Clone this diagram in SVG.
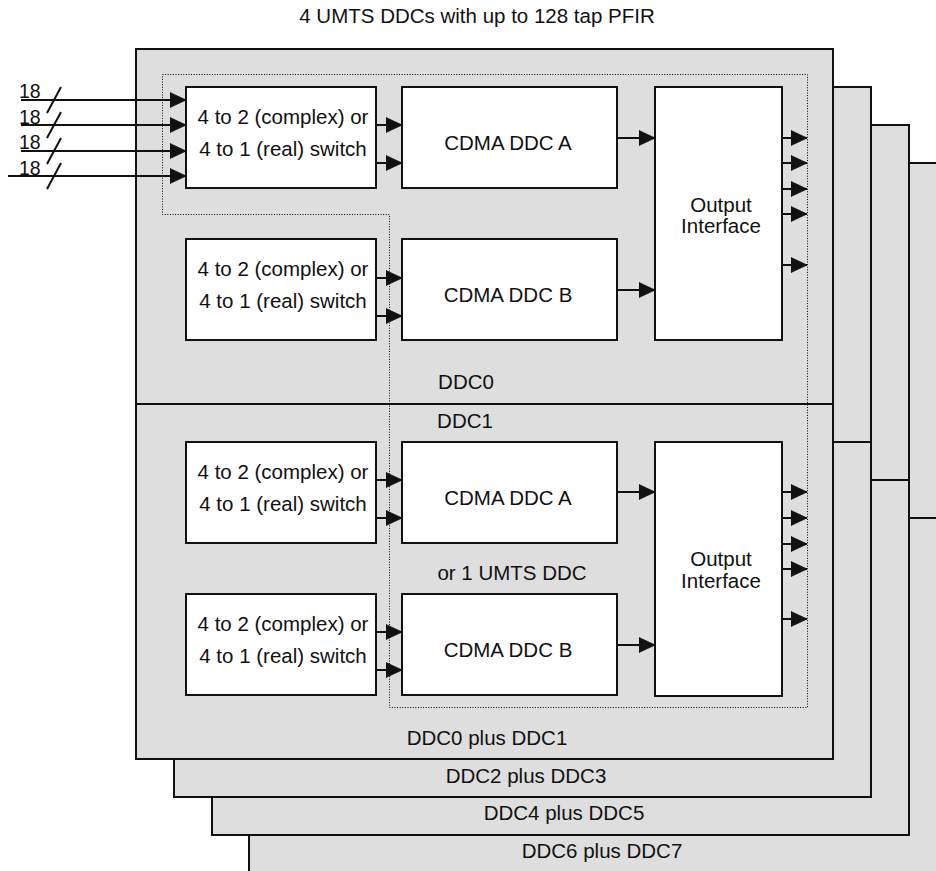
<svg xmlns="http://www.w3.org/2000/svg" width="936" height="871" viewBox="0 0 936 871">
<style>
text{font-family:"Liberation Sans",Arial,sans-serif;font-size:20.5px;fill:#111;}
.mid{text-anchor:middle;}
.panel{fill:#dedede;stroke:#111;stroke-width:2;}
.div{stroke:#111;stroke-width:2;fill:none;}
.box{fill:#fff;stroke:#111;stroke-width:2;}
.dot{fill:none;stroke:#000;stroke-width:1;stroke-dasharray:1 1.6;}
.ln{stroke:#111;stroke-width:2;fill:none;}
.arr{stroke:#111;stroke-width:2;fill:none;marker-end:url(#ah);}
</style>
<defs>
<marker id="ah" markerUnits="userSpaceOnUse" markerWidth="17" markerHeight="16" refX="16.5" refY="8" orient="auto">
<path d="M0.5,0.5 L16.5,8 L0.5,15.5 z" fill="#111" stroke="#111" stroke-width="0.8"/>
</marker>
</defs>
<rect width="936" height="871" fill="#fff"/>
<text id="title" class="mid" x="477" y="23">4 UMTS DDCs with up to 128 tap PFIR</text>

<g id="panel-ddc6-7">
<rect class="panel" x="249" y="163" width="697" height="720"/>
<line class="div" x1="249" y1="518" x2="946" y2="518"/>
<text class="mid" x="602" y="858">DDC6 plus DDC7</text>
</g>
<g id="panel-ddc4-5">
<rect class="panel" x="212" y="125" width="697" height="710"/>
<line class="div" x1="212" y1="480" x2="909" y2="480"/>
<text class="mid" x="564" y="820">DDC4 plus DDC5</text>
</g>
<g id="panel-ddc2-3">
<rect class="panel" x="174" y="87" width="697" height="710"/>
<line class="div" x1="174" y1="442" x2="871" y2="442"/>
<text class="mid" x="526" y="783">DDC2 plus DDC3</text>
</g>
<g id="panel-ddc0-1">
<rect class="panel" x="136" y="49" width="697" height="710"/>
<line class="div" x1="136" y1="404" x2="833" y2="404"/>
<text class="mid" x="487" y="745">DDC0 plus DDC1</text>
<text class="mid" x="466" y="389">DDC0</text>
<text class="mid" x="465" y="428">DDC1</text>
<text class="mid" x="512" y="580">or 1 UMTS DDC</text>
</g>

<g id="umts-region">
<path class="dot" d="M162.5,74.5 H807.5 V707.5 H389.5 V214.5 H162.5 Z"/>
</g>

<g id="switch-a0">
<rect class="box" x="186" y="87" width="190" height="101"/>
<text class="mid" x="283" y="124">4 to 2 (complex) or</text>
<text class="mid" x="283" y="156">4 to 1 (real) switch</text>
</g>
<g id="ddc-a0">
<rect class="box" x="402" y="87" width="215" height="101"/>
<text class="mid" x="508" y="150">CDMA DDC A</text>
</g>
<g id="switch-b0">
<rect class="box" x="186" y="239" width="190" height="101"/>
<text class="mid" x="283" y="276">4 to 2 (complex) or</text>
<text class="mid" x="283" y="308">4 to 1 (real) switch</text>
</g>
<g id="ddc-b0">
<rect class="box" x="402" y="239" width="215" height="101"/>
<text class="mid" x="508" y="302">CDMA DDC B</text>
</g>
<g id="out0">
<rect class="box" x="655" y="87" width="127" height="253"/>
<text class="mid" x="721" y="212">Output</text>
<text class="mid" x="721" y="233">Interface</text>
</g>

<g id="switch-a1">
<rect class="box" x="186" y="442" width="190" height="101"/>
<text class="mid" x="283" y="479">4 to 2 (complex) or</text>
<text class="mid" x="283" y="511">4 to 1 (real) switch</text>
</g>
<g id="ddc-a1">
<rect class="box" x="402" y="442" width="215" height="101"/>
<text class="mid" x="508" y="505">CDMA DDC A</text>
</g>
<g id="switch-b1">
<rect class="box" x="186" y="594" width="190" height="101"/>
<text class="mid" x="283" y="631">4 to 2 (complex) or</text>
<text class="mid" x="283" y="663">4 to 1 (real) switch</text>
</g>
<g id="ddc-b1">
<rect class="box" x="402" y="594" width="215" height="101"/>
<text class="mid" x="508" y="657">CDMA DDC B</text>
</g>
<g id="out1">
<rect class="box" x="655" y="442" width="127" height="254"/>
<text class="mid" x="721" y="566">Output</text>
<text class="mid" x="721" y="588">Interface</text>
</g>

<g id="inputs">
<text x="19" y="98" style="font-size:19.5px">18</text>
<text x="19" y="123.5" style="font-size:19.5px">18</text>
<text x="19" y="149" style="font-size:19.5px">18</text>
<text x="19" y="174.5" style="font-size:19.5px">18</text>
</g>

<g id="connectors">
<path class="arr" d="M21,100 H186"/>
<path class="arr" d="M21,125 H186"/>
<path class="arr" d="M21,151 H186"/>
<path class="arr" d="M8,176 H186"/>
<path class="ln" d="M47,113 L61,87 M47,138 L61,112 M47,164 L61,138 M47,189 L61,163"/>

<path class="arr" d="M376,125 H402"/>
<path class="arr" d="M376,163 H402"/>
<path class="arr" d="M376,278 H402"/>
<path class="arr" d="M376,316 H402"/>
<path class="arr" d="M617,138 H655"/>
<path class="arr" d="M617,290 H655"/>
<path class="arr" d="M782,138 H807"/>
<path class="arr" d="M782,163 H807"/>
<path class="arr" d="M782,189 H807"/>
<path class="arr" d="M782,214 H807"/>
<path class="arr" d="M782,265 H807"/>

<path class="arr" d="M376,480 H402"/>
<path class="arr" d="M376,518 H402"/>
<path class="arr" d="M376,632 H402"/>
<path class="arr" d="M376,670 H402"/>
<path class="arr" d="M617,492 H655"/>
<path class="arr" d="M617,645 H655"/>
<path class="arr" d="M782,492 H807"/>
<path class="arr" d="M782,518 H807"/>
<path class="arr" d="M782,544 H807"/>
<path class="arr" d="M782,569 H807"/>
<path class="arr" d="M782,619 H807"/>
</g>
</svg>
